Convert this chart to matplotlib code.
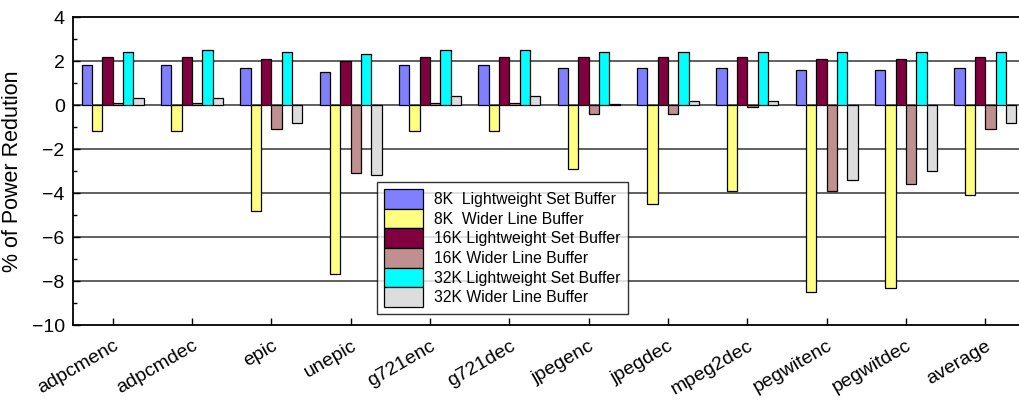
import numpy as np
import matplotlib
matplotlib.use('Agg')
import matplotlib.pyplot as plt
import matplotlib.transforms as mtransforms
from matplotlib.ticker import MultipleLocator

plt.rcParams['font.family'] = ['Liberation Sans', 'DejaVu Sans']

benchmarks = ['adpcmenc', 'adpcmdec', 'epic', 'unepic', 'g721enc', 'g721dec',
              'jpegenc', 'jpegdec', 'mpeg2dec', 'pegwitenc', 'pegwitdec', 'average']

series_names = ['8K  Lightweight Set Buffer', '8K  Wider Line Buffer',
                '16K Lightweight Set Buffer', '16K Wider Line Buffer',
                '32K Lightweight Set Buffer', '32K Wider Line Buffer']

lw8 = [1.8, 1.8, 1.7, 1.5, 1.8, 1.8, 1.7, 1.7, 1.7, 1.6, 1.6, 1.7]
wl8 = [-1.2, -1.2, -4.8, -7.7, -1.2, -1.2, -2.9, -4.5, -3.9, -8.5, -8.3, -4.1]
lw16 = [2.2, 2.2, 2.1, 2.0, 2.2, 2.2, 2.2, 2.2, 2.2, 2.1, 2.1, 2.2]
wl16 = [0.1, 0.1, -1.1, -3.1, 0.1, 0.1, -0.4, -0.4, -0.1, -3.9, -3.6, -1.1]
lw32 = [2.4, 2.5, 2.4, 2.3, 2.5, 2.5, 2.4, 2.4, 2.4, 2.4, 2.4, 2.4]
wl32 = [0.3, 0.3, -0.8, -3.2, 0.4, 0.4, 0.03, 0.2, 0.2, -3.4, -3.0, -0.8]

colors = ['#8080FF', '#FFFF80', '#800040', '#C09090', '#00FFFF', '#DDDDDD']

fig = plt.figure(figsize=(10.2, 4), dpi=100)
ax = fig.add_axes([73 / 1020, 1 - 325 / 400, 952 / 1020, 308 / 400])

x = np.arange(len(benchmarks))
w = 0.13
all_series = [lw8, wl8, lw16, wl16, lw32, wl32]
for i, vals in enumerate(all_series):
    ax.bar(x + (i - 2.5) * w, vals, w, color=colors[i], edgecolor='black',
           linewidth=0.9, label=series_names[i], zorder=3)

ax.set_xlim(-0.5, len(benchmarks) - 0.5)
ax.set_ylim(-10, 4)
ax.set_yticks(np.arange(-10, 5, 2))
ax.yaxis.set_minor_locator(MultipleLocator(1))
ax.set_yticklabels(['\u2212%d' % -v if v < 0 else '%d' % v for v in range(-10, 5, 2)], fontsize=14)
for yv in range(-8, 4, 2):
    ax.axhline(yv, color='#606060', linewidth=1.4, zorder=1)

ax.set_xticks(x)
ax.set_xticklabels(benchmarks, fontsize=14, rotation=30, ha='right',
                   rotation_mode='anchor')
offset = mtransforms.ScaledTranslation(5 / 100, 0, fig.dpi_scale_trans)
for lab in ax.get_xticklabels():
    lab.set_transform(lab.get_transform() + offset)

ax.tick_params(axis='both', which='both', direction='in', width=1)
ax.tick_params(axis='x', length=5, pad=9)
ax.tick_params(axis='y', which='major', length=5, pad=6)
ax.tick_params(axis='y', which='minor', length=3)
for s in ['left', 'bottom', 'top']:
    ax.spines[s].set_linewidth(1.3)
ax.spines['right'].set_visible(False)

ax.set_ylabel('% of Power Redution', fontsize=15.5, labelpad=6)

leg = ax.legend(loc='upper left', bbox_to_anchor=(377 / 1020, 1 - 182 / 400),
                bbox_transform=fig.transFigure, fontsize=11.3, frameon=True,
                fancybox=False, edgecolor='black', handlelength=2.5,
                handleheight=1.55, labelspacing=0.0, handletextpad=0.7,
                borderpad=0.45, borderaxespad=0)
leg.get_frame().set_linewidth(1.0)
leg.set_zorder(5)

fig.savefig('out.png', dpi=100)
